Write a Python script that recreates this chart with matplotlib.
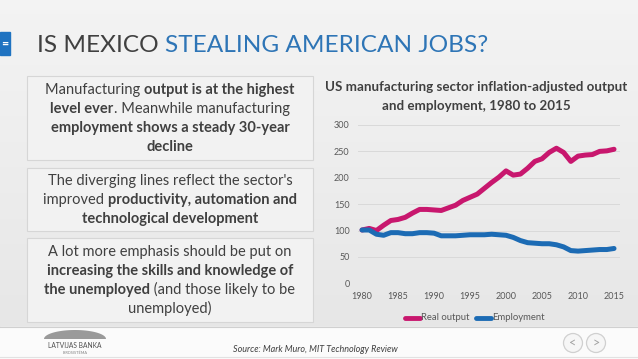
import numpy as np
import matplotlib
matplotlib.use("Agg")
import matplotlib.pyplot as plt
from matplotlib.patches import Rectangle, Circle

plt.rcParams['font.family'] = ['Lato', 'DejaVu Sans']

# data (index, 1980 = 100)
years = list(range(1980, 2016))
real_output = [101, 104, 100, 110, 119, 121, 125, 133, 140, 140,
               139, 138, 143, 148, 157, 163, 169, 180, 191, 201,
               213, 205, 207, 218, 231, 236, 248, 256, 248, 231,
               241, 243, 244, 250, 251, 254]
employment = [101, 101, 93, 91, 96, 96, 94, 94, 96, 96,
              95, 90, 90, 90, 91, 92, 92, 92, 93, 92,
              91, 87, 81, 77, 76, 75, 75, 73, 69, 62,
              61, 62, 63, 64, 64, 66]
y_ticks = [0, 50, 100, 150, 200, 250, 300]
x_ticks = [1980, 1985, 1990, 1995, 2000, 2005, 2010, 2015]

W, H = 638, 359
DARK = '#404040'
BLUE_T = '#2e75b6'
PINK = '#c8176e'
BLUE = '#1c6bb4'

fig = plt.figure(figsize=(W / 100, H / 100), dpi=100)

# background axes in pixel units
bg = fig.add_axes([0, 0, 1, 1])
bg.set_xlim(0, W)
bg.set_ylim(H, 0)
bg.axis('off')

grad = np.linspace(0, 1, 200).reshape(-1, 1)
top = np.array([0.955, 0.955, 0.955])
bot = np.array([0.905, 0.905, 0.905])
img = top + (bot - top) * grad[..., None]
bg.imshow(img, extent=[0, W, 327, 0], aspect='auto', zorder=0)
bg.add_patch(Rectangle((0, 327), W, H - 327, color='#fbfbfb', zorder=1))
bg.plot([0, W], [327, 327], color='#d0d0d0', lw=0.8, zorder=2)
bg.plot([0, W], [357, 357], color='#e2e2e2', lw=0.8, zorder=2)

# title bar
bg.add_patch(Rectangle((0, 32), 10, 23, color='#1f73c1', zorder=2))
bg.text(5, 43.5, '=', color='white', fontsize=9, ha='center', va='center',
        weight='bold', zorder=3)

renderer = fig.canvas.get_renderer()


def rich_line(x, y, parts, size, color=DARK):
    texts = []
    for s, b in parts:
        t = bg.text(0, y, s, fontsize=size, color=color, va='baseline',
                    weight='bold' if b else 'normal', zorder=5)
        texts.append(t)
    widths = [t.get_window_extent(renderer).width for t in texts]
    cx = x - sum(widths) / 2
    for t, w in zip(texts, widths):
        t.set_x(cx)
        cx += w


title_size = 17.6
t1 = bg.text(37, 52.5, 'IS MEXICO ', fontsize=title_size, color=DARK, va='baseline')
w1 = t1.get_window_extent(renderer).width
bg.text(37 + w1, 52.5, 'STEALING AMERICAN JOBS?', fontsize=title_size,
        color=BLUE_T, va='baseline')

# text boxes
boxes = [
    (76, 160, [
        [('Manufacturing ', False), ('output is at the highest', True)],
        [('level ever', True), ('. Meanwhile manufacturing', False)],
        [('employment shows a steady 30-year', True)],
        [('decline', True)],
    ]),
    (168, 231, [
        [("The diverging lines reflect the sector's", False)],
        [('improved ', False), ('productivity, automation and', True)],
        [('technological development', True)],
    ]),
    (238, 322, [
        [('A lot more emphasis should be put on', False)],
        [('increasing the skills and knowledge of', True)],
        [('the unemployed', True), (' (and those likely to be', False)],
        [('unemployed)', False)],
    ]),
]
line_h = 18.7
for y0, y1, lines in boxes:
    bg.add_patch(Rectangle((27, y0), 286, y1 - y0, facecolor='#f2f2f2',
                           edgecolor='#d6d6d6', lw=0.8, zorder=3))
    mid = (y0 + y1) / 2
    first = mid - line_h * (len(lines) - 1) / 2 + 4.5
    for i, parts in enumerate(lines):
        rich_line(170, first + i * line_h, parts, 10.5)

# chart title
bg.text(476, 87, 'US manufacturing sector inflation-adjusted output',
        fontsize=9.6, weight='bold', color=DARK, ha='center', va='center')
bg.text(476, 106, 'and employment, 1980 to 2015',
        fontsize=9.6, weight='bold', color=DARK, ha='center', va='center')

# legend
bg.plot([405, 420], [318, 318], color=PINK, lw=3.5, solid_capstyle='round')
bg.text(421, 318, 'Real output', fontsize=6.8, color='#595959', va='center')
bg.plot([476, 491], [318, 318], color=BLUE, lw=3.5, solid_capstyle='round')
bg.text(492, 318, 'Employment', fontsize=6.8, color='#595959', va='center')

# footer
bg.text(315, 350, 'Source: Mark Muro, MIT Technology Review', fontsize=6.5,
        style='italic', color='#404040', ha='center', va='center')
t = np.linspace(0, np.pi, 60)
bg.fill(75 + 31 * np.cos(t), 339 - 9 * np.sin(t), color='#9a9a9a', lw=0, zorder=3)
bg.text(75, 345.5, 'LATVIJAS BANKA', fontsize=4.8, color='#505050',
        ha='center', va='center', zorder=5)
bg.text(75, 352.5, 'EIROSISTĒMA', fontsize=2.8, color='#808080',
        ha='center', va='center', zorder=5)
for cx, sym in [(573, '<'), (596, '>')]:
    bg.add_patch(Circle((cx, 343), 9.5, facecolor='#f6f6f6',
                        edgecolor='#d0d0d0', lw=0.9, zorder=3))
    bg.text(cx, 342.5, sym, fontsize=9, color='#a0a0a0', ha='center',
            va='center', zorder=4)

# chart axes
ax = fig.add_axes([358 / W, (H - 283.3) / H, 262 / W, (283.3 - 125) / H])
ax.patch.set_alpha(0)
ax.plot(years, real_output, color=PINK, lw=3.6, solid_capstyle='round',
        solid_joinstyle='round', zorder=3)
ax.plot(years, employment, color=BLUE, lw=3.6, solid_capstyle='round',
        solid_joinstyle='round', zorder=3)
ax.set_xlim(1979.44, 2015.83)
ax.set_ylim(0, 300)
ax.set_yticks(y_ticks)
ax.set_xticks(x_ticks)
ax.grid(axis='y', color='#d9d9d9', lw=0.7)
ax.set_axisbelow(True)
for s in ax.spines.values():
    s.set_visible(False)
ax.tick_params(length=0, labelsize=6.5, labelcolor='#595959', pad=6)

fig.savefig('out.png', dpi=100)
